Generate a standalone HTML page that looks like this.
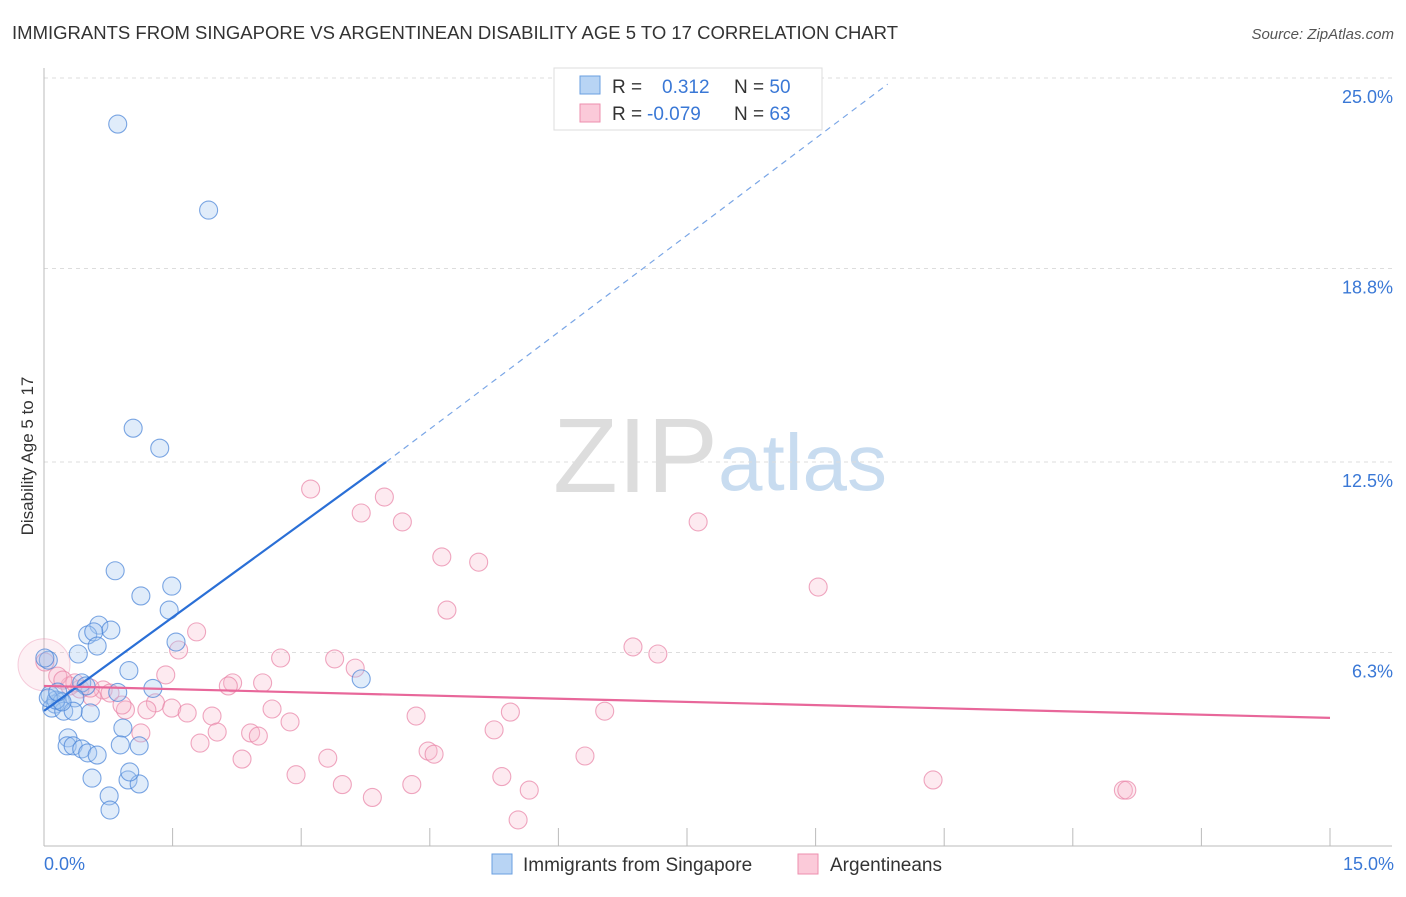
<!DOCTYPE html>
<html><head><meta charset="utf-8"><style>
body{margin:0;background:#fff;font-family:"Liberation Sans",sans-serif}
svg text{font-family:"Liberation Sans",sans-serif}
</style></head><body>
<svg width="1406" height="892" viewBox="0 0 1406 892" xmlns="http://www.w3.org/2000/svg">
<text x="12" y="39" font-size="18" fill="#333" textLength="886" lengthAdjust="spacingAndGlyphs">IMMIGRANTS FROM SINGAPORE VS ARGENTINEAN DISABILITY AGE 5 TO 17 CORRELATION CHART</text>
<text x="1394" y="39" font-size="15" fill="#555" text-anchor="end" font-style="italic">Source: ZipAtlas.com</text>
<text x="553" y="492" font-size="106" fill="#ddd" font-family="Liberation Serif">ZIP</text>
<text x="718" y="490" font-size="80" fill="#c8dcf0">atlas</text>
<g id="grid"></g>
<g id="axes"></g>
<g id="points"></g>
<g id="lines"></g>
<text transform="translate(33,456) rotate(-90)" font-size="17" fill="#333" text-anchor="middle">Disability Age 5 to 17</text>
<g>
<rect x="554" y="68" width="268" height="62" fill="#fff" stroke="#ddd"/>
<rect x="580" y="76" width="20" height="18" fill="#b8d4f4" stroke="#6a9fe0"/>
<rect x="580" y="104" width="20" height="18" fill="#fbcad9" stroke="#ee8fae"/>
<text x="612" y="93" font-size="19" fill="#333">R = <tspan fill="#3a78d6" x="662">0.312</tspan><tspan x="734">N = </tspan><tspan fill="#3a78d6">50</tspan></text>
<text x="612" y="120" font-size="19" fill="#333">R = <tspan fill="#3a78d6" x="647">-0.079</tspan><tspan x="734">N = </tspan><tspan fill="#3a78d6">63</tspan></text>
</g>
<g>
<rect x="492" y="854" width="20" height="20" fill="#b8d4f4" stroke="#6a9fe0"/>
<text x="523" y="871" font-size="19" fill="#333">Immigrants from Singapore</text>
<rect x="798" y="854" width="20" height="20" fill="#fbcad9" stroke="#ee8fae"/>
<text x="830" y="871" font-size="19" fill="#333">Argentineans</text>
</g>
</svg>
<script>
const yTicks=[6.3,12.5,18.8,25.0];
const yTickLabels=["6.3%","12.5%","18.8%","25.0%"];
const xTickCount=10;
const blueX=[0.86,1.92,1.04,1.35,0.83,1.49,1.13,1.46,0.64,0.78,0.51,0.58,1.54,0.62,0.40,0.05,0.99,3.70,1.27,0.86,0.44,0.49,0.07,0.19,0.13,0.36,0.09,0.23,0.54,0.34,0.92,0.89,1.11,0.28,0.27,0.34,0.44,0.51,0.62,0.56,0.98,1.11,0.76,0.77,1.00,0.01,0.14,0.21,0.05,0.16];
const blueY=[23.5,20.7,13.6,12.95,8.96,8.46,8.14,7.68,7.19,7.03,6.87,6.97,6.64,6.51,6.25,6.05,5.71,5.44,5.13,5.0,5.31,5.21,4.92,4.72,4.62,4.82,4.49,4.39,4.33,4.39,3.84,3.29,3.26,3.52,3.26,3.26,3.16,3.03,2.96,2.21,2.15,2.02,1.63,1.17,2.41,6.12,4.75,4.69,4.82,5.01];
const pinkX=[3.11,3.97,3.70,4.18,7.63,4.64,5.07,4.70,9.03,1.78,1.57,6.87,7.16,2.76,3.39,3.63,1.42,2.20,2.55,2.15,0.30,0.16,0.01,0.69,0.77,0.56,0.95,1.30,1.49,1.67,1.20,1.96,2.66,2.87,4.34,5.44,6.54,2.02,1.13,2.41,2.50,1.82,5.25,2.31,3.31,4.48,4.55,6.31,2.94,3.48,3.83,4.29,5.34,5.66,5.53,10.37,12.59,12.63,0.42,0.36,0.91,0.22,0.54];
const pinkY=[11.62,11.36,10.84,10.55,10.55,9.41,9.24,7.68,8.43,6.97,6.38,6.48,6.25,6.12,6.09,5.79,5.57,5.31,5.31,5.21,5.21,5.53,5.99,5.08,4.98,4.85,4.43,4.66,4.49,4.33,4.43,4.23,4.46,4.04,4.23,4.36,4.39,3.71,3.68,3.68,3.58,3.35,3.78,2.83,2.86,3.09,2.99,2.93,2.32,2.0,1.58,2.0,2.26,1.82,0.85,2.15,1.82,1.82,5.11,5.31,4.59,5.40,5.14];
const blueFit=[[0,4.4],[3.99,12.5]];
const blueDash=[[3.99,12.5],[9.84,24.8]];
const pinkFit=[[0,5.21],[15,4.17]];
const NS="http://www.w3.org/2000/svg";
const X0=44,X1=1330,XMAX=15,Y0=846,YPX=30.72;
const sx=v=>X0+(v/XMAX)*(X1-X0), sy=v=>Y0-v*YPX;
function mk(tag,attrs,parent){const e=document.createElementNS(NS,tag);for(const k in attrs)e.setAttribute(k,attrs[k]);document.getElementById(parent).appendChild(e);return e;}
yTicks.forEach((t,i)=>{
 const l=mk('line',{x1:44,x2:1392,y1:sy(t),y2:sy(t),stroke:'#ddd','stroke-dasharray':'4,4'},'grid');
 
 
 const tx=mk('text',{x:1393,y:sy(t)+25,'font-size':18,fill:'#3a78d6','text-anchor':'end'},'grid');
 tx.textContent=yTickLabels[i];
 
 
});
const ax=mk('line',{x1:44,x2:44,y1:68,y2:846,stroke:'#bbb'},'axes');


const bx=mk('line',{x1:44,x2:1392,y1:846,y2:846,stroke:'#bbb'},'axes');


for(let i=1;i<=xTickCount;i++){const v=i*XMAX/xTickCount;
 const t=mk('line',{x1:sx(v),x2:sx(v),y1:828,y2:846,stroke:'#bbb'},'axes');
 
 }
const xl=mk('text',{x:44,y:870,'font-size':18,fill:'#3a78d6'},'axes');xl.textContent='0.0%';


const xr=mk('text',{x:1394,y:870,'font-size':18,fill:'#3a78d6','text-anchor':'end'},'axes');xr.textContent='15.0%';


const big=mk('circle',{cx:sx(0),cy:sy(5.9),r:26,fill:'rgba(246,170,195,0.18)',stroke:'rgba(230,120,160,0.35)'},'points');


pinkX.forEach((x,i)=>{const c=mk('circle',{cx:sx(x),cy:sy(pinkY[i]),r:9,fill:'rgba(248,185,205,0.3)',stroke:'rgba(232,130,165,0.7)','stroke-width':1.1},'points');
 
 });
blueX.forEach((x,i)=>{const c=mk('circle',{cx:sx(x),cy:sy(blueY[i]),r:9,fill:'rgba(165,200,242,0.35)',stroke:'rgba(70,130,215,0.7)','stroke-width':1.1},'points');
 
 });
function ln(p,st,dash,w,name){const l=mk('line',{x1:sx(p[0][0]),y1:sy(p[0][1]),x2:sx(p[1][0]),y2:sy(p[1][1]),stroke:st,'stroke-width':w},'lines');if(dash)l.setAttribute('stroke-dasharray',dash);
 
 }
ln(blueFit,'#2a6fd6',null,2.2,'singapore-trend-line');
ln(blueDash,'#7aa6e6','6,5',1.2,'singapore-trend-extension');
ln(pinkFit,'#e8679a',null,2.2,'argentinean-trend-line');
</script>
</body></html>
